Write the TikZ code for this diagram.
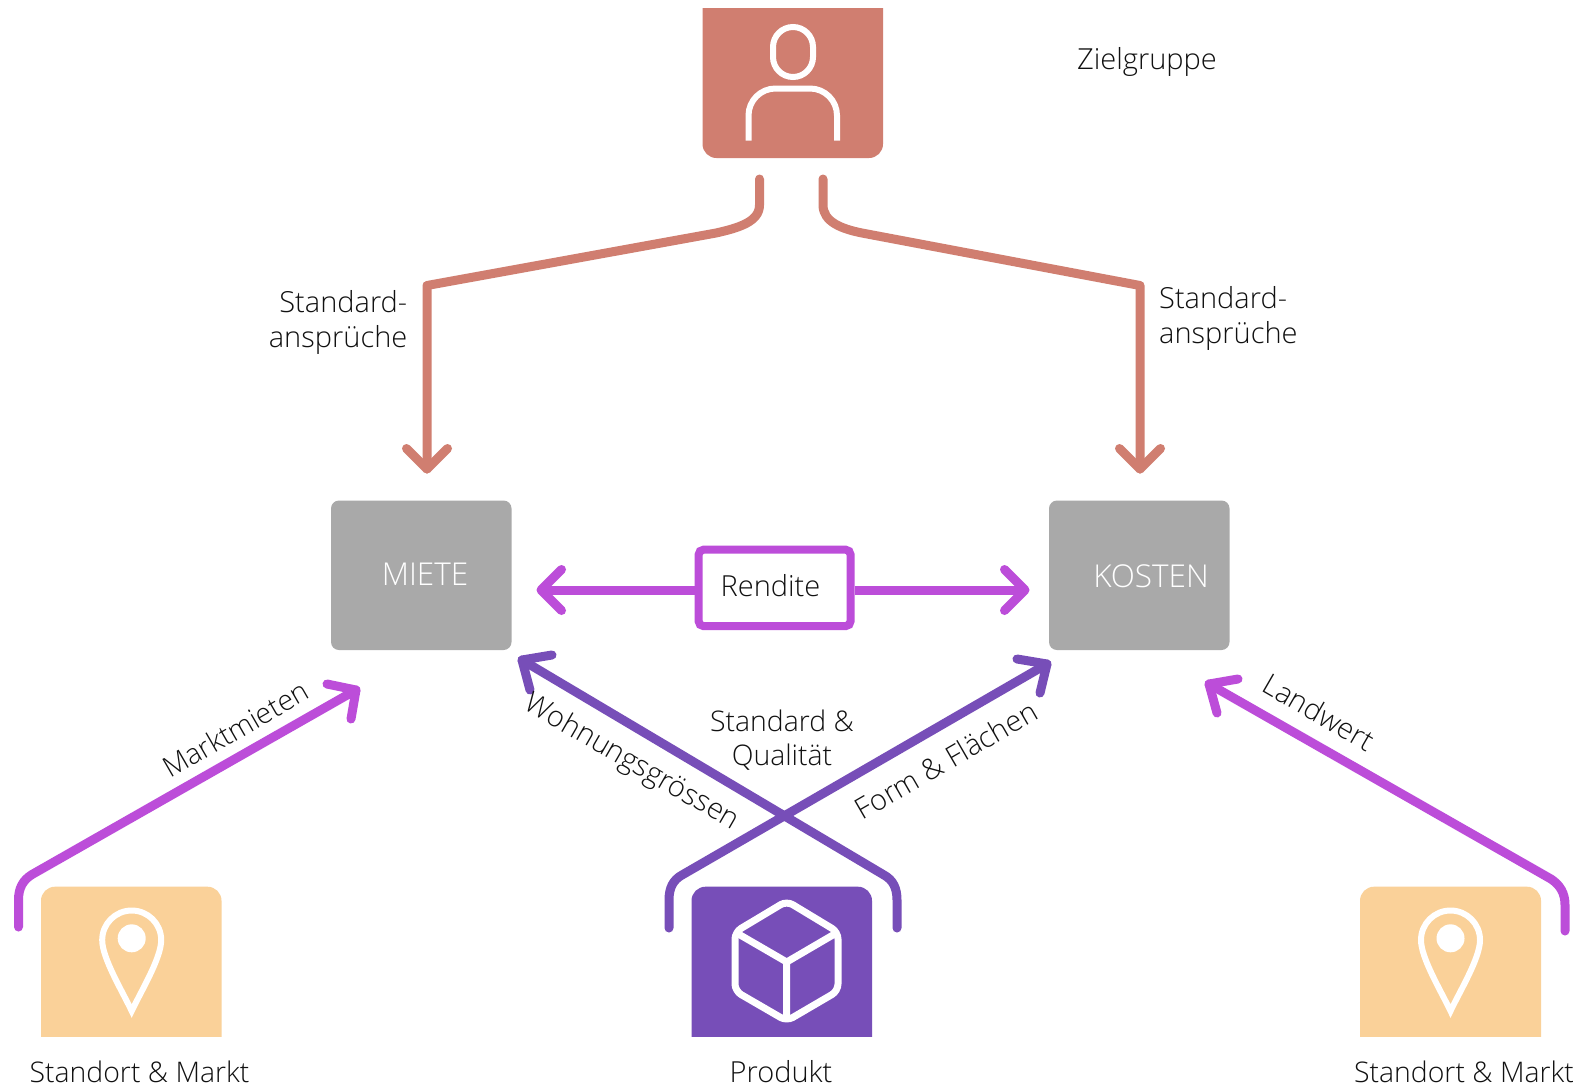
\documentclass[tikz,border=0pt]{standalone}
\usepackage{fontspec}
\setmainfont{Open Sans}[UprightFont=* Light]
\usetikzlibrary{calc}
\definecolor{cTop}{HTML}{D07E70}
\definecolor{cGray}{HTML}{A9A9A9}
\definecolor{cMag}{HTML}{BC4DD9}
\definecolor{cPur}{HTML}{774EB8}
\definecolor{cSand}{HTML}{FAD199}
\definecolor{cText}{HTML}{111111}
\tikzset{
  conn/.style={line width=9pt,line cap=round,line join=round},
  icon/.style={draw=white,line width=6pt},
  anchorbox/.style={inner sep=0pt,minimum width=180pt,minimum height=150pt},
  lbl/.style={text=cText,font=\fontsize{29}{35}\selectfont,inner sep=0pt},
  lblb/.style={text=cText,font=\fontsize{28.4}{34.5}\selectfont,inner sep=0pt},
  inbox/.style={text=white,font=\fontsize{31.5}{36}\selectfont,inner sep=0pt},
}
\begin{document}
\begin{tikzpicture}[x=1pt,y=-1pt]
\useasboundingbox (0,0) rectangle (1573,1088);
\fill[white] (0,0) rectangle (1573,1088);
% top box
\fill[cTop,rounded corners=14pt] (702.5,-30) rectangle (883,158);
\fill[white] (695,-32) rectangle (890,8);
\node[anchorbox] (ziel) at (792.75,83) {};
\draw[icon,rounded corners=20pt] (773,27) rectangle (813,77);
\draw[icon,rounded corners=27pt,line cap=butt] (748.5,140.7) -- (748.5,88.5) -- (837,88.5) -- (837,140.7);
% grey boxes
\fill[cGray,rounded corners=8pt] (331,500.5) rectangle (511.5,650);
\fill[cGray,rounded corners=8pt] (1049,500.5) rectangle (1229.5,650);
\node[anchorbox] (miete) at (421,575) {};
\node[anchorbox] (kosten) at (1139,575) {};
\node[inbox] (tmiete) at (425,574.5) {MIETE};
\node[inbox] (tkosten) at (1151,576.5) {KOSTEN};
% bottom boxes
\foreach \xa/\xb/\col/\nm in {41/221.5/cSand/sl, 691.5/872/cPur/pr, 1360/1541/cSand/sr}{
  \fill[\col,rounded corners=14pt] (\xa,886.7) rectangle (\xb,1060);
  \fill[white] (\xa-5,1036.7) rectangle (\xb+5,1065);
}
\node[anchorbox] (sl) at (131.25,961.7) {};
\node[anchorbox] (pr) at (781.75,961.7) {};
\node[anchorbox] (sr) at (1450.5,961.7) {};
% pins
\foreach \c in {131.7,1450.5}{
  \begin{scope}[xshift=\c pt]
  \draw[icon,line join=miter] (0,1011) .. controls (-10,990) and (-29.5,958) .. (-29.5,940)
     arc[start angle=180,end angle=360,radius=29.5]
     .. controls (29.5,958) and (10,990) .. (0,1011) -- cycle;
  \fill[white] (0,938.3) circle (14pt);
  \end{scope}
}
% cube
\draw[icon,line width=7pt,rounded corners=7pt,line join=round]
  (786.7,901) -- (838,932) -- (838,991) -- (786.7,1021) -- (735,991) -- (735,932) -- cycle;
\draw[icon,line width=7pt] (735,932) -- (786.7,962) -- (838,932) (786.7,962) -- (786.7,1019);
% Rendite box
\node[draw=cMag,line width=8pt,rounded corners=5pt,minimum width=152pt,minimum height=76.5pt,inner sep=0pt,fill=white] (rend) at (774.6,587.9) {};
\node[lbl] at (770.5,585.5) {Rendite};
% coordinates for free ends
\coordinate (a1) at (759.5,179);
\coordinate (a2) at (427,469);
\coordinate (b1) at (823,179);
\coordinate (b2) at (1140,469);
\coordinate (c1) at (18.5,927);
\coordinate (c2) at (356,690);
\coordinate (d1) at (669,928);
\coordinate (d2) at (1047,664);
\coordinate (e1) at (897,928);
\coordinate (e2) at (522,660);
\coordinate (f1) at (1565,931);
\coordinate (f2) at (1209,684);
\coordinate (r1) at (541,590);
\coordinate (r2) at (1025,590);
% connectors
\draw[conn,cTop] (a1) -- (759.5,205) .. controls (759.5,222) and (738,228) .. (716,233) -- (427,285.5) -- (a2);
\draw[conn,cTop] ($(a2)+(-20.5,-20.5)$) -- (a2) -- ($(a2)+(20.5,-20.5)$);
\draw[conn,cTop] (b1) -- (823,205) .. controls (823,222) and (842,229) .. (862,233) -- (1140,285.5) -- (b2);
\draw[conn,cTop] ($(b2)+(-20.5,-20.5)$) -- (b2) -- ($(b2)+(20.5,-20.5)$);
\draw[conn,cMag] (c1) -- (18.5,900) .. controls (18.5,888) and (23,880) .. (32,874.5) -- (c2);
\draw[conn,cMag] ($(c2)+(-29,-6)$) -- (c2) -- ($(c2)+(-5,29)$);
\draw[conn,cPur] (d1) -- (669,900) .. controls (669,888) and (673,880) .. (682,875) -- (d2);
\draw[conn,cPur] ($(d2)+(-30,-5)$) -- (d2) -- ($(d2)+(-7,29)$);
\draw[conn,cPur] (e1) -- (897,900) .. controls (897,888) and (893,880) .. (884,875) -- (e2);
\draw[conn,cPur] ($(e2)+(30,-5)$) -- (e2) -- ($(e2)+(8,30)$);
\draw[conn,cMag] (f1) -- (1565,905) .. controls (1565,893) and (1560,885) .. (1551,879) -- (f2);
\draw[conn,cMag] ($(f2)+(29,-5)$) -- (f2) -- ($(f2)+(8,29)$);
\draw[conn,cMag,line cap=butt] (rend.west |- r1) -- (r1);
\draw[conn,cMag] ($(r1)+(20.5,-20.5)$) -- (r1) -- ($(r1)+(20.5,20.5)$);
\draw[conn,cMag,line cap=butt] (rend.east |- r2) -- (r2);
\draw[conn,cMag] ($(r2)+(-20.5,-20.5)$) -- (r2) -- ($(r2)+(-20.5,20.5)$);
% labels
\node[lbl] at (1147,62) {Zielgruppe};
\node[lbl,align=right,anchor=east] at (407.5,322) {Standard-\\ansprüche};
\node[lbl,align=left,anchor=west] at (1159,318.5) {Standard-\\ansprüche};
\node[lblb,align=center] at (782,740) {Standard \&\\Qualität};
\node[lblb,rotate=30] at (235.5,729) {Marktmieten};
\node[lbl,rotate=-30] at (631.5,763) {Wohnungsgrössen};
\node[lbl,rotate=30] at (946,760) {Form \& Flächen};
\node[lbl,rotate=-30] at (1319,712) {Landwert};
\node[lblb] at (139.5,1072) {Standort \& Markt};
\node[lbl] at (781,1072) {Produkt};
\node[lblb] at (1464,1072) {Standort \& Markt};
\end{tikzpicture}
\end{document}
